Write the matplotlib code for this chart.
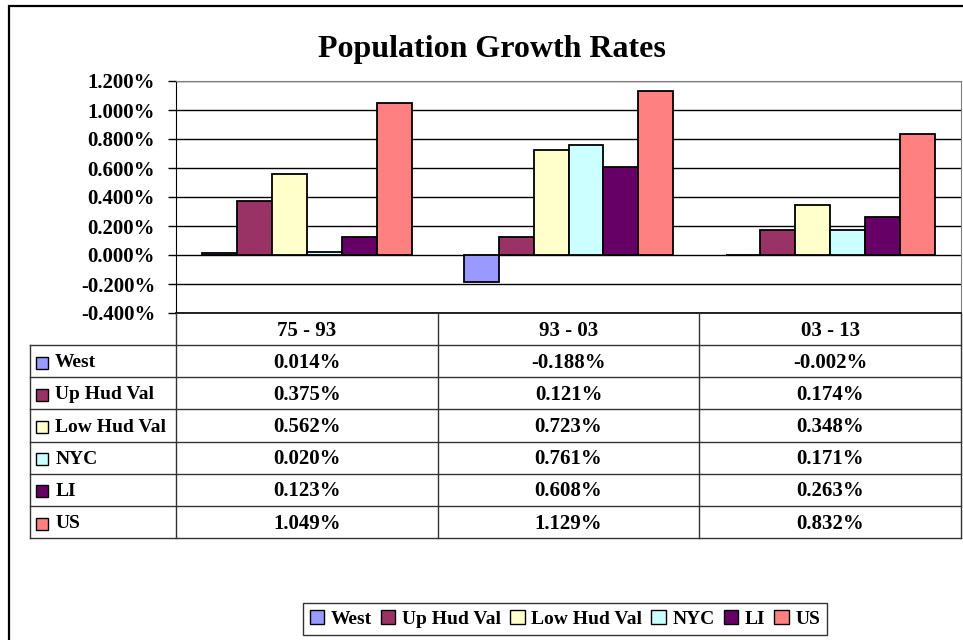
import numpy as np
import matplotlib
matplotlib.use('Agg')
import matplotlib.pyplot as plt
from matplotlib.patches import Rectangle, Patch
from matplotlib.ticker import FuncFormatter

# chart data
periods = ['75 - 93', '93 - 03', '03 - 13']
regions = ['West', 'Up Hud Val', 'Low Hud Val', 'NYC', 'LI', 'US']
west = [0.014, -0.188, -0.002]
up_hud = [0.375, 0.121, 0.174]
low_hud = [0.562, 0.723, 0.348]
nyc = [0.020, 0.761, 0.171]
li = [0.123, 0.608, 0.263]
us = [1.049, 1.129, 0.832]
series = [west, up_hud, low_hud, nyc, li, us]
colors = ['#9999FF', '#993366', '#FFFFCC', '#CCFFFF', '#660066', '#FF8080']
yticks = [-0.4, -0.2, 0.0, 0.2, 0.4, 0.6, 0.8, 1.0, 1.2]

plt.rcParams['font.family'] = ['Liberation Serif', 'DejaVu Serif']
plt.rcParams['font.weight'] = 'bold'

W, H = 963, 640
fig = plt.figure(figsize=(W / 100, H / 100), dpi=100)

# pixel layout helper
def box(x0, y0, x1, y1):
    return [x0 / W, 1 - y1 / H, (x1 - x0) / W, (y1 - y0) / H]

# outer chart frame (runs off the right / bottom edge)
fig.patches.append(Rectangle((9 / W, -0.1), 1.2, 1.1 - 6 / H, transform=fig.transFigure,
                             fill=False, edgecolor='black', linewidth=1.6))

fig.text(492 / W, 1 - 49 / H, 'Population Growth Rates', ha='center', va='center',
         fontsize=23, fontweight='bold')

# bar plot
ax = fig.add_axes(box(176, 81, 961, 313))
n = len(series)
bw = 1.0 / (n + 1.5)
x = np.arange(len(periods))
for i, (vals, c) in enumerate(zip(series, colors)):
    ax.bar(x + (i - (n - 1) / 2) * bw, vals, bw, color=c, edgecolor='black',
           linewidth=1.3, zorder=3)

ax.set_xlim(-0.5, 2.5)
ax.set_ylim(-0.4, 1.2)
ax.set_yticks(yticks)
ax.yaxis.set_major_formatter(FuncFormatter(lambda v, p: '%.3f%%' % v))
ax.set_xticks([])
ax.yaxis.grid(True, color='black', linewidth=1)
ax.set_axisbelow(True)
ax.tick_params(axis='y', length=6, width=1, direction='out', labelsize=15, pad=9)
for lab in ax.get_yticklabels():
    lab.set_fontweight('bold')
ax.spines['top'].set_color('#808080')
ax.spines['right'].set_color('#808080')
ax.spines['left'].set_color('black')
ax.spines['bottom'].set_visible(False)

# data table
tx = fig.add_axes(box(176, 313, 961, 538))
tx.set_xlim(-0.5, 2.5)
tx.set_ylim(len(regions) + 1, 0)
tx.axis('off')
lab_left = -0.5 - 146 / 262
lc = '#333333'
tx.plot([-0.5, 2.5], [0, 0], color='black', lw=1.2, clip_on=False)
for r in range(1, len(regions) + 2):
    tx.plot([lab_left, 2.5], [r, r], color=lc, lw=1, clip_on=False)
tx.plot([lab_left, lab_left], [1, len(regions) + 1], color=lc, lw=1, clip_on=False)
for xv in [-0.5, 0.5, 1.5, 2.5]:
    tx.plot([xv, xv], [0, len(regions) + 1], color=lc, lw=1, clip_on=False)

for j, p in enumerate(periods):
    tx.text(j, 0.55, p, ha='center', va='center', fontsize=15, fontweight='bold')
for i, (name, vals, c) in enumerate(zip(regions, series, colors)):
    yc = i + 1.55
    tx.plot([lab_left + 12 / 262], [yc], marker='s', markersize=8.5, color=c,
            markeredgecolor='black', markeredgewidth=1, clip_on=False)
    tx.text(lab_left + 25 / 262, yc, name, ha='left', va='center', fontsize=14,
            fontweight='bold')
    for j, v in enumerate(vals):
        tx.text(j, yc, '%.3f%%' % v, ha='center', va='center', fontsize=15,
                fontweight='bold')

# legend
handles = [Patch(facecolor=c, edgecolor='black', linewidth=1) for c in colors]
leg = fig.legend(handles, regions, loc='center', bbox_to_anchor=(565 / W, 1 - 619 / H),
                 ncol=6, frameon=True, fancybox=False, edgecolor='black',
                 handlelength=0.75, handleheight=0.75, handletextpad=0.35,
                 columnspacing=0.45, borderpad=0.35, borderaxespad=0,
                 prop={'size': 14, 'weight': 'bold'})
leg.get_frame().set_linewidth(1)

fig.savefig('out.png', dpi=100)
